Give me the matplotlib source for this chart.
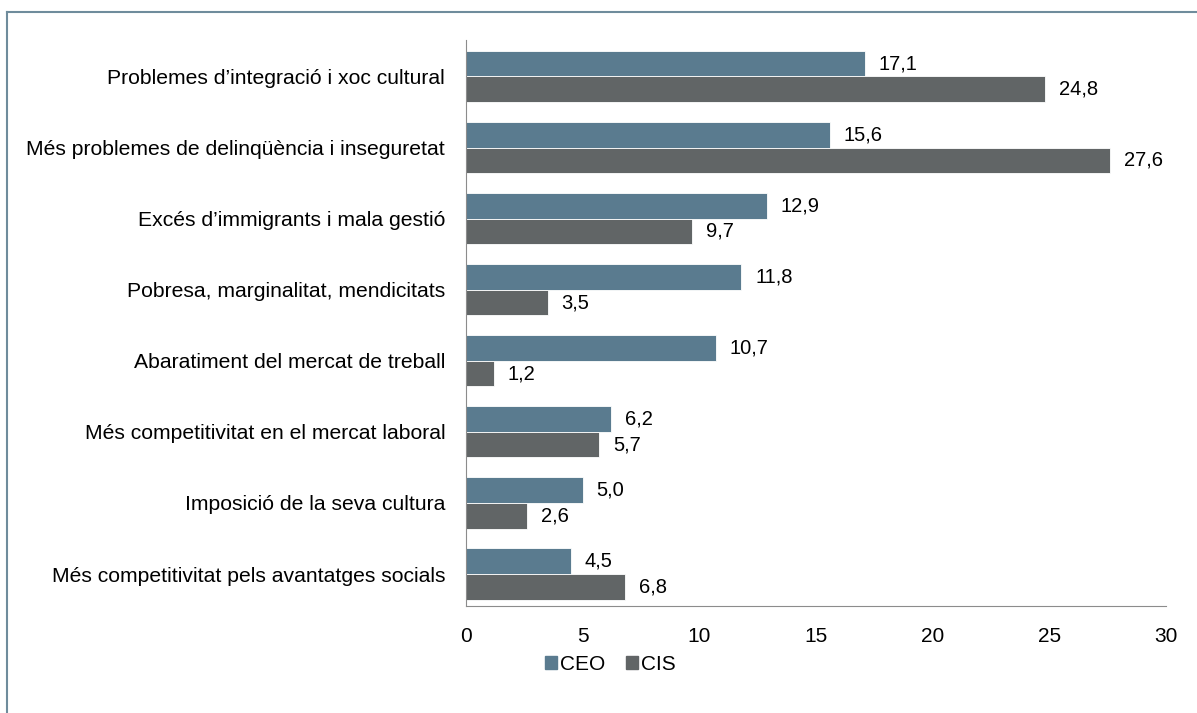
import numpy as np
import matplotlib.pyplot as plt
from matplotlib.lines import Line2D
from matplotlib.patches import Patch

plt.rcParams['font.family'] = ['Liberation Sans', 'DejaVu Sans']

categories = [
    "Problemes d\u2019integració i xoc cultural",
    "Més problemes de delinqüència i inseguretat",
    "Excés d\u2019immigrants i mala gestió",
    "Pobresa, marginalitat, mendicitats",
    "Abaratiment del mercat de treball",
    "Més competitivitat en el mercat laboral",
    "Imposició de la seva cultura",
    "Més competitivitat pels avantatges socials",
]
ceo = [17.1, 15.6, 12.9, 11.8, 10.7, 6.2, 5.0, 4.5]
cis = [24.8, 27.6, 9.7, 3.5, 1.2, 5.7, 2.6, 6.8]

ceo_color = "#5a7b8f"
cis_color = "#616566"

fig = plt.figure(figsize=(11.97, 7.13), dpi=100)
ax = fig.add_axes([0.3893, 0.150, 0.5848, 0.794])

y = np.arange(len(categories))
h = 0.36
ax.barh(y - h / 2, ceo, height=h, color=ceo_color, edgecolor="white", linewidth=0.6)
ax.barh(y + h / 2, cis, height=h, color=cis_color, edgecolor="white", linewidth=0.6)

for yi, v in zip(y, ceo):
    ax.text(v + 0.6, yi - h / 2, f"{v:.1f}".replace(".", ","), va="center", ha="left", fontsize=14.5)
for yi, v in zip(y, cis):
    ax.text(v + 0.6, yi + h / 2, f"{v:.1f}".replace(".", ","), va="center", ha="left", fontsize=14.5)

ax.set_yticks(y)
ax.set_yticklabels(categories, fontsize=15.2)
ax.set_ylim(7.45, -0.514)
ax.set_xlim(0, 30)
ax.set_xticks(range(0, 31, 5))
ax.tick_params(axis="x", labelsize=15, length=0, pad=15)
ax.tick_params(axis="y", length=0, pad=15)

for s in ["top", "right"]:
    ax.spines[s].set_visible(False)
ax.spines["left"].set_color("#8c8c8c")
ax.spines["bottom"].set_color("#8c8c8c")

handles = [Patch(color=ceo_color, label="CEO"), Patch(color=cis_color, label="CIS")]
fig.legend(handles=handles, loc="center", bbox_to_anchor=(0.51, 0.068), ncol=2,
           frameon=False, fontsize=15, handlelength=0.55, handleheight=0.55,
           handletextpad=0.15, columnspacing=1.0)

# outer frame (top and left)
frame_color = "#6f8c9c"
fig.add_artist(Line2D([7 / 1197, 1], [1 - 12 / 713, 1 - 12 / 713], color=frame_color, lw=1.5, transform=fig.transFigure))
fig.add_artist(Line2D([7 / 1197, 7 / 1197], [0, 1 - 12 / 713], color=frame_color, lw=1.5, transform=fig.transFigure))

fig.savefig("out.png", dpi=100)
